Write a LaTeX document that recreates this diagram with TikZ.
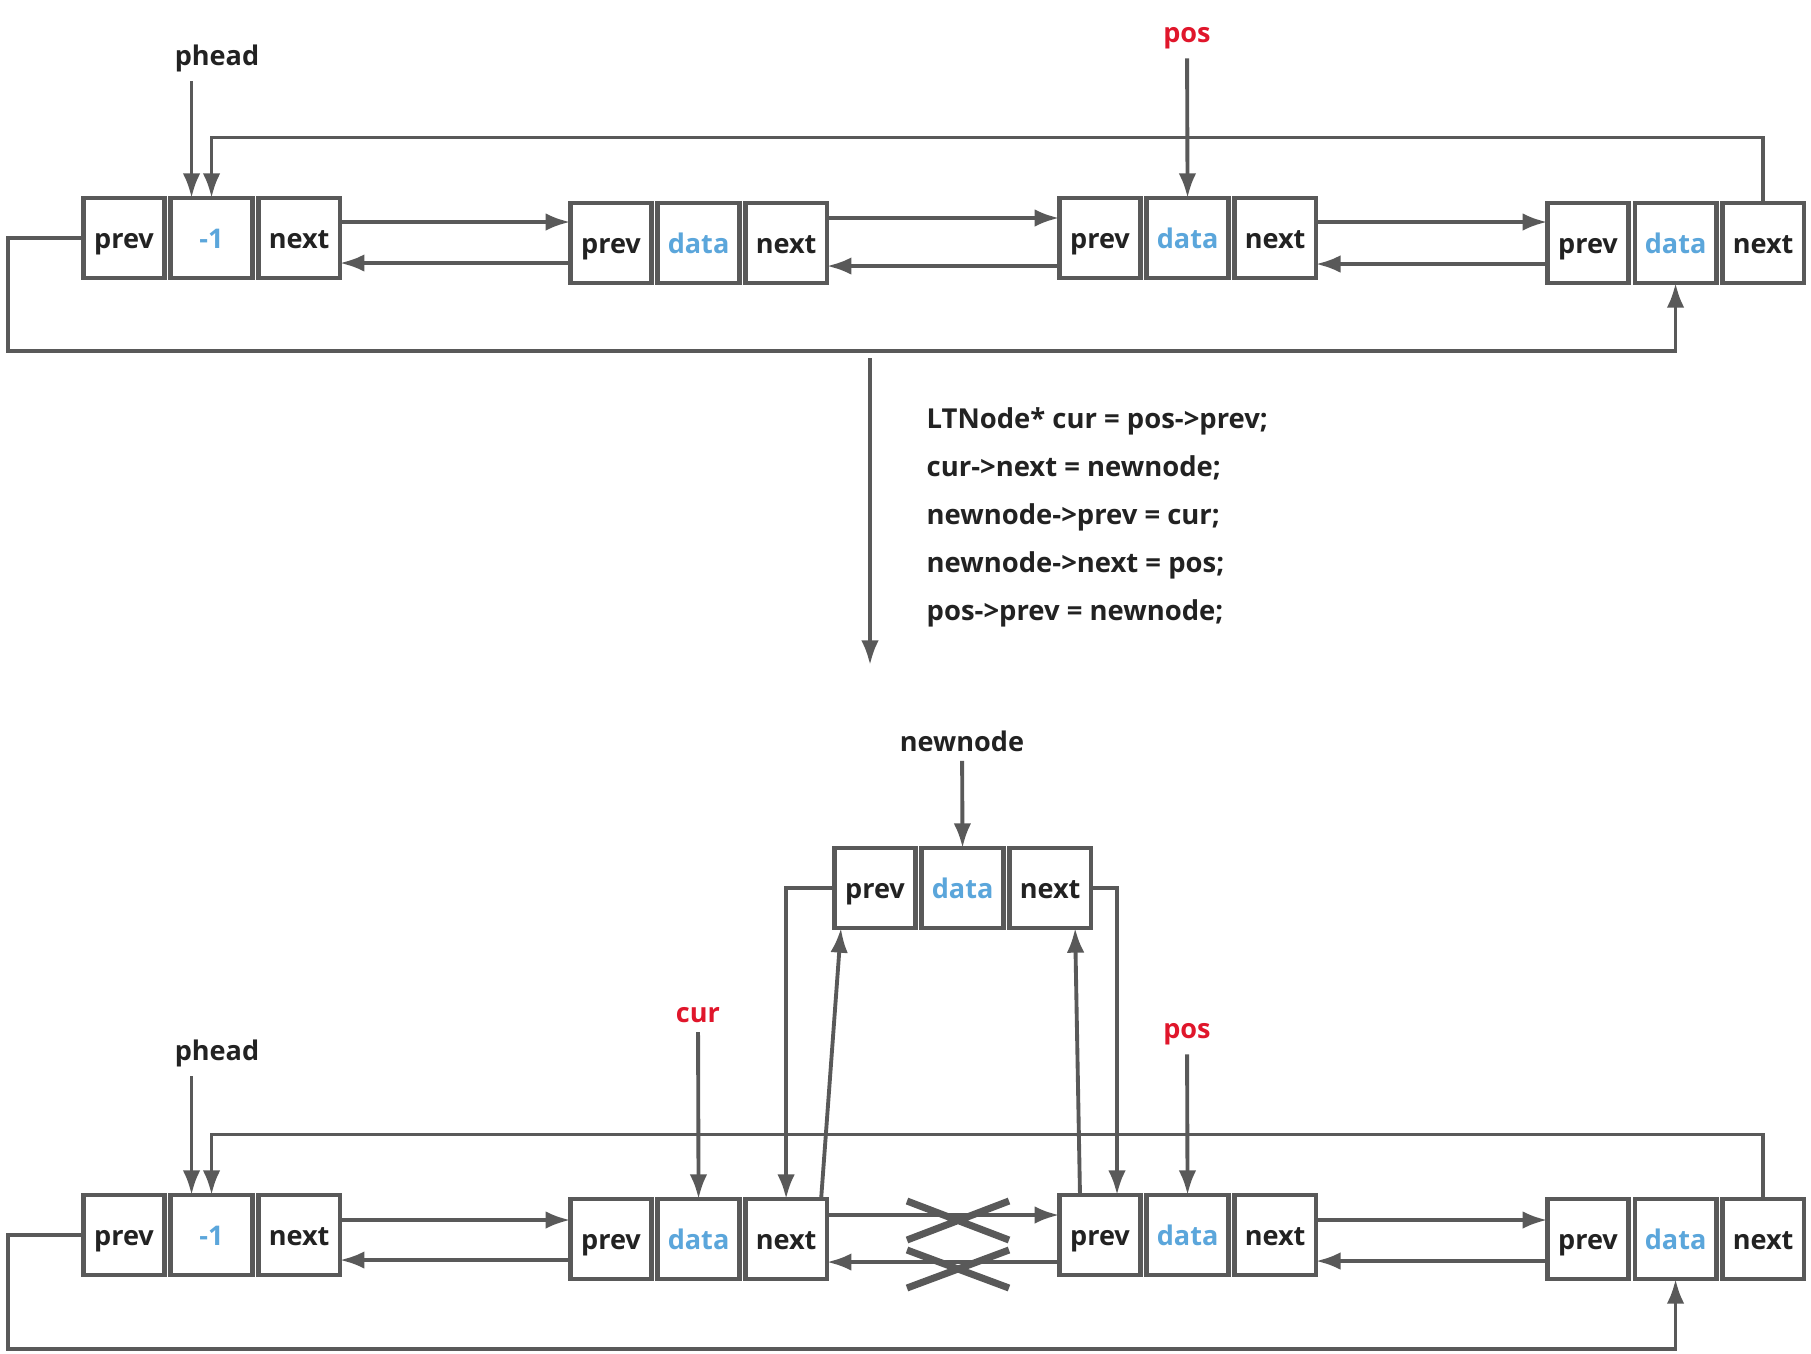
\documentclass[tikz,border=0pt]{standalone}
\usepackage{fontspec}
\setmainfont{Open Sans}
\usetikzlibrary{arrows.meta,positioning,calc}
\definecolor{lineGray}{HTML}{595959}
\definecolor{inkDark}{HTML}{222222}
\definecolor{dataBlue}{HTML}{5BA6DB}
\definecolor{ptrRed}{HTML}{E0162B}

\begin{document}
\begin{tikzpicture}[x=0.01cm,y=-0.01cm,
  cell/.style={draw=lineGray,line width=1.3pt,fill=white,minimum width=0.815cm,minimum height=0.8cm,inner sep=0pt,outer sep=0pt,text height=1.55ex,text depth=0.45ex,font=\fontsize{7.7}{9}\selectfont\bfseries,text=inkDark},
  datacell/.style={cell,text=dataBlue},
  ptr/.style={font=\fontsize{7.7}{9}\selectfont\bfseries,text=inkDark,inner sep=2.5pt},
  redptr/.style={ptr,text=ptrRed},
  code/.style={font=\fontsize{7.8}{13.66}\selectfont\bfseries,text=inkDark,align=left,inner sep=0pt},
  link/.style={-{Latex[length=7pt,width=5pt]},line width=1.1pt,lineGray},
  xmark/.style={line width=2pt,lineGray},
  node distance=0.06cm]

\useasboundingbox (0,0) rectangle (1811,1353);

% before the insertion
\node[cell] (h1p) at (124,238) {prev};
\node[datacell,right=of h1p] (h1d) {-1};
\node[cell,right=of h1d] (h1n) {next};

\node[cell] (m1p) at (611,243) {prev};
\node[datacell,right=of m1p] (m1d) {data};
\node[cell,right=of m1d] (m1n) {next};

\node[cell] (p1p) at (1100,238) {prev};
\node[datacell,right=of p1p] (p1d) {data};
\node[cell,right=of p1d] (p1n) {next};

\node[cell] (t1p) at (1588,243) {prev};
\node[datacell,right=of t1p] (t1d) {data};
\node[cell,right=of t1d] (t1n) {next};

\node[ptr] (phead1) at (217,58) {phead};
\node[redptr] (pos1) at (1187,38) {pos};
\coordinate (h1ptr) at ([xshift=-0.2cm]h1d.north);

\draw[link] (phead1.south -| h1ptr) -- (h1ptr);
\draw[link] (pos1) -- (p1d.north);
\draw[link] (t1n.north) -- ++(0,0.655cm) -| (h1d.north);
\draw[link] (h1p.west) -- ++(-0.75cm,0) |- ([yshift=-0.675cm]t1d.south) -- (t1d.south);

\draw[link] ([yshift=0.16cm]h1n.east) -- ([yshift=0.16cm]h1n.east -| m1p.west);
\draw[link] ([yshift=-0.2cm]m1p.west) -- ([yshift=-0.2cm]m1p.west -| h1n.east);
\draw[link] ([yshift=0.25cm]m1n.east) -- ([yshift=0.25cm]m1n.east -| p1p.west);
\draw[link] ([yshift=-0.28cm]p1p.west) -- ([yshift=-0.28cm]p1p.west -| m1n.east);
\draw[link] ([yshift=0.16cm]p1n.east) -- ([yshift=0.16cm]p1n.east -| t1p.west);
\draw[link] ([yshift=-0.21cm]t1p.west) -- ([yshift=-0.21cm]t1p.west -| p1n.east);

% step arrow and code
\coordinate (stepA) at (870,358);
\coordinate (stepB) at (870,665);
\draw[link] (stepA) -- (stepB);
\node[code,anchor=north west] (steps) at (926,407) {LTNode* cur = pos->prev;\\cur->next = newnode;\\newnode->prev = cur;\\newnode->next = pos;\\pos->prev = newnode;};

% after the insertion
\node[cell] (h2p) at (124,1235) {prev};
\node[datacell,right=of h2p] (h2d) {-1};
\node[cell,right=of h2d] (h2n) {next};

\node[cell] (c2p) at (611,1239) {prev};
\node[datacell,right=of c2p] (c2d) {data};
\node[cell,right=of c2d] (c2n) {next};

\node[cell] (p2p) at (1100,1235) {prev};
\node[datacell,right=of p2p] (p2d) {data};
\node[cell,right=of p2d] (p2n) {next};

\node[cell] (t2p) at (1588,1239) {prev};
\node[datacell,right=of t2p] (t2d) {data};
\node[cell,right=of t2d] (t2n) {next};

\node[cell] (nnp) at (875,888) {prev};
\node[datacell,right=of nnp] (nnd) {data};
\node[cell,right=of nnd] (nnn) {next};

\node[ptr] (newnode) at (962,741) {newnode};
\node[redptr] (cur2) at (698,1015) {cur};
\node[ptr] (phead2) at (217,1053) {phead};
\node[redptr] (pos2) at (1187,1034) {pos};
\coordinate (h2ptr) at ([xshift=-0.2cm]h2d.north);

\draw[link] (newnode) -- (nnd.north);
\draw[link] (cur2) -- (c2d.north);
\draw[link] (phead2.south -| h2ptr) -- (h2ptr);
\draw[link] (pos2) -- (p2d.north);
\draw[link] (t2n.north) -- ++(0,0.645cm) -| (h2d.north);
\draw[link] (h2p.west) -- ++(-0.75cm,0) |- ([yshift=-0.695cm]t2d.south) -- (t2d.south);

\draw[link] ([yshift=0.15cm]h2n.east) -- ([yshift=0.15cm]h2n.east -| c2p.west);
\draw[link] ([yshift=-0.21cm]c2p.west) -- ([yshift=-0.21cm]c2p.west -| h2n.east);
\draw[link] ([yshift=0.24cm]c2n.east) -- ([yshift=0.24cm]c2n.east -| p2p.west);
\draw[link] ([yshift=-0.27cm]p2p.west) -- ([yshift=-0.27cm]p2p.west -| c2n.east);
\draw[link] ([yshift=0.15cm]p2n.east) -- ([yshift=0.15cm]p2n.east -| t2p.west);
\draw[link] ([yshift=-0.22cm]t2p.west) -- ([yshift=-0.22cm]t2p.west -| p2n.east);

\draw[link] (nnp.west) -| (c2n.north);
\draw[link] ([xshift=0.35cm]c2n.north) -- ([xshift=-0.34cm]nnp.south);
\draw[link] ([xshift=-0.2cm]p2p.north) -- ([xshift=0.25cm]nnn.south);
\draw[link] (nnn.east) -| ([xshift=0.17cm]p2p.north);

% broken links
\draw[xmark] (907,1201) -- (1009,1240) (907,1240) -- (1009,1201);
\draw[xmark] (907,1250) -- (1009,1288) (907,1288) -- (1009,1250);
\end{tikzpicture}
\end{document}
